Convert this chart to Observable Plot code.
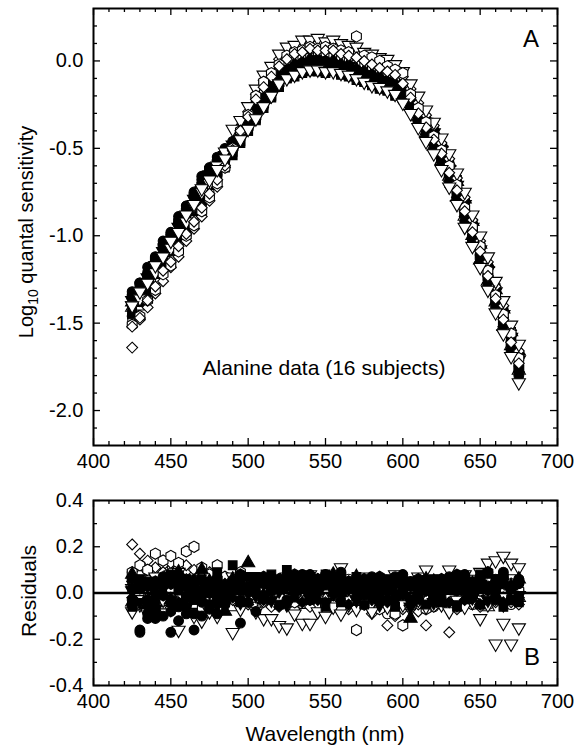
<!DOCTYPE html>
<html><head><meta charset="utf-8">
<script src="https://cdn.jsdelivr.net/npm/d3@7"></script>
<script src="https://cdn.jsdelivr.net/npm/@observablehq/plot@0.6"></script>
<style>
body{margin:0;background:#fff;font-family:"Liberation Sans",Arial,sans-serif;}
#wrap{position:relative;width:585px;height:747px;overflow:hidden;background:#fff;}
#wrap svg{position:absolute;left:0;}
.lab{position:absolute;color:#000;white-space:nowrap;line-height:1;}
.rot{transform:translate(-50%,-50%) rotate(-90deg);}
.ctr{transform:translate(-50%,-50%);}
</style></head><body><div id="wrap"></div>
<script>
// ---- data ----
const wavelengths = [425,430,435,440,445,450,455,460,465,470,475,480,485,490,495,500,505,510,515,520,525,530,535,540,545,550,555,560,565,570,575,580,585,590,595,600,605,610,615,620,625,630,635,640,645,650,655,660,665,670,675];
const xTicks = [400,450,500,550,600,650,700];
const xMinor = [410,420,430,440,460,470,480,490,510,520,530,540,560,570,580,590,610,620,630,640,660,670,680,690];
const yTicksA = [-2.0,-1.5,-1.0,-0.5,0.0];
const yMinorA = [-2.1,-1.9,-1.8,-1.7,-1.6,-1.4,-1.3,-1.2,-1.1,-0.9,-0.8,-0.7,-0.6,-0.4,-0.3,-0.2,-0.1,0.1,0.2];
const yTicksB = [-0.4,-0.2,0.0,0.2,0.4];
const yMinorB = [-0.3,-0.1,0.1,0.3];

// symbol of each of the 16 subjects
const subjectShape = ["circle","circle","triangle","triangle","square","square","diamond2","diamond2","triangle","triangle","hexagon","hexagon","circle","square","diamond2","triangle"];
const subjectFilled = [1,0,1,0,1,0,1,0,1,0,1,0,1,1,0,0];
const subjectPointDown = [0,0,0,0,0,0,0,0,1,1,0,0,0,0,0,1];

// Panel A: log10 quantal sensitivity per subject (425..675 nm, 5 nm steps)
const sens01 = [-1.32,-1.27,-1.18,-1.12,-1.03,-0.98,-0.89,-0.83,-0.75,-0.66,-0.61,-0.55,-0.50,-0.47,-0.40,-0.35,-0.29,-0.23,-0.16,-0.12,-0.07,-0.04,-0.03,-0.03,-0.02,-0.01,-0.03,-0.04,-0.05,-0.06,-0.09,-0.11,-0.12,-0.13,-0.16,-0.20,-0.26,-0.31,-0.38,-0.46,-0.54,-0.63,-0.75,-0.86,-0.97,-1.11,-1.23,-1.35,-1.49,-1.60,-1.74];
const sens02 = [-1.46,-1.38,-1.33,-1.23,-1.18,-1.09,-1.04,-0.95,-0.86,-0.81,-0.72,-0.65,-0.57,-0.48,-0.38,-0.31,-0.21,-0.13,-0.08,-0.03,0.02,0.05,0.06,0.06,0.08,0.07,0.07,0.05,0.05,0.03,0.01,-0.01,-0.02,-0.05,-0.08,-0.12,-0.20,-0.27,-0.37,-0.42,-0.53,-0.61,-0.73,-0.83,-0.97,-1.07,-1.22,-1.33,-1.47,-1.58,-1.70];
const sens03 = [-1.38,-1.30,-1.25,-1.15,-1.10,-1.01,-0.96,-0.86,-0.80,-0.71,-0.66,-0.59,-0.54,-0.47,-0.41,-0.34,-0.28,-0.22,-0.14,-0.09,-0.06,-0.02,-0.01,0.01,0.00,-0.01,0.00,-0.02,-0.02,-0.05,-0.06,-0.08,-0.09,-0.12,-0.13,-0.17,-0.21,-0.27,-0.32,-0.40,-0.47,-0.58,-0.69,-0.79,-0.92,-1.05,-1.16,-1.31,-1.42,-1.55,-1.66];
const sens04 = [-1.41,-1.33,-1.28,-1.18,-1.12,-1.06,-0.97,-0.91,-0.82,-0.74,-0.69,-0.61,-0.53,-0.47,-0.38,-0.32,-0.23,-0.15,-0.11,-0.04,0.01,0.02,0.03,0.05,0.04,0.06,0.04,0.02,0.02,0.01,-0.02,-0.04,-0.05,-0.06,-0.09,-0.15,-0.23,-0.32,-0.41,-0.49,-0.57,-0.66,-0.78,-0.89,-1.00,-1.14,-1.26,-1.38,-1.52,-1.63,-1.77];
const sens05 = [-1.43,-1.35,-1.30,-1.21,-1.15,-1.06,-1.01,-0.92,-0.85,-0.76,-0.70,-0.64,-0.59,-0.52,-0.46,-0.40,-0.33,-0.25,-0.20,-0.14,-0.10,-0.07,-0.06,-0.05,-0.06,-0.05,-0.05,-0.07,-0.08,-0.09,-0.12,-0.13,-0.15,-0.17,-0.18,-0.22,-0.27,-0.33,-0.39,-0.45,-0.55,-0.66,-0.75,-0.87,-0.99,-1.10,-1.24,-1.37,-1.49,-1.61,-1.75];
const sens06 = [-1.48,-1.40,-1.35,-1.25,-1.20,-1.12,-1.04,-0.98,-0.88,-0.83,-0.74,-0.68,-0.59,-0.50,-0.43,-0.33,-0.25,-0.19,-0.11,-0.06,-0.03,0.01,0.02,0.02,0.03,0.04,0.02,0.01,0.01,-0.02,-0.03,-0.05,-0.07,-0.08,-0.11,-0.14,-0.21,-0.27,-0.34,-0.41,-0.49,-0.60,-0.71,-0.81,-0.94,-1.07,-1.19,-1.31,-1.44,-1.57,-1.69];
const sens07 = [-1.39,-1.34,-1.25,-1.19,-1.10,-1.05,-0.97,-0.88,-0.82,-0.74,-0.66,-0.62,-0.55,-0.50,-0.44,-0.37,-0.31,-0.24,-0.17,-0.12,-0.08,-0.05,-0.04,-0.04,-0.03,-0.02,-0.04,-0.05,-0.05,-0.08,-0.10,-0.12,-0.13,-0.14,-0.17,-0.21,-0.28,-0.35,-0.42,-0.48,-0.58,-0.69,-0.78,-0.89,-1.02,-1.15,-1.27,-1.39,-1.52,-1.65,-1.78];
const sens08 = [-1.64,-1.48,-1.41,-1.33,-1.26,-1.18,-1.12,-1.03,-0.96,-0.89,-0.80,-0.72,-0.61,-0.50,-0.40,-0.29,-0.19,-0.11,-0.06,0.01,0.05,0.07,0.09,0.10,0.10,0.09,0.09,0.08,0.06,0.05,0.03,0.01,-0.01,-0.02,-0.05,-0.09,-0.16,-0.24,-0.31,-0.37,-0.47,-0.56,-0.67,-0.78,-0.91,-1.03,-1.15,-1.29,-1.40,-1.54,-1.66];
const sens09 = [-1.37,-1.33,-1.24,-1.18,-1.09,-1.04,-0.95,-0.89,-0.79,-0.74,-0.65,-0.61,-0.54,-0.48,-0.42,-0.35,-0.29,-0.21,-0.16,-0.10,-0.05,-0.04,-0.02,-0.02,0.00,-0.01,-0.02,-0.03,-0.03,-0.06,-0.08,-0.10,-0.11,-0.12,-0.15,-0.18,-0.23,-0.29,-0.35,-0.41,-0.51,-0.62,-0.71,-0.82,-0.95,-1.08,-1.20,-1.32,-1.45,-1.58,-1.71];
const sens10 = [-1.40,-1.36,-1.27,-1.21,-1.12,-1.07,-0.98,-0.92,-0.83,-0.75,-0.70,-0.60,-0.52,-0.39,-0.34,-0.26,-0.16,-0.08,-0.03,0.04,0.08,0.09,0.12,0.12,0.13,0.11,0.12,0.10,0.09,0.08,0.05,0.04,0.02,0.01,-0.02,-0.06,-0.13,-0.20,-0.28,-0.35,-0.44,-0.53,-0.64,-0.75,-0.88,-1.00,-1.12,-1.26,-1.37,-1.51,-1.62];
const sens11 = [-1.35,-1.28,-1.23,-1.14,-1.06,-1.01,-0.92,-0.86,-0.77,-0.71,-0.62,-0.58,-0.53,-0.49,-0.42,-0.38,-0.32,-0.25,-0.18,-0.13,-0.09,-0.06,-0.05,-0.04,-0.05,-0.04,-0.04,-0.06,-0.07,-0.09,-0.10,-0.12,-0.14,-0.15,-0.18,-0.22,-0.27,-0.33,-0.40,-0.47,-0.56,-0.65,-0.76,-0.88,-1.01,-1.12,-1.24,-1.38,-1.51,-1.62,-1.76];
const sens12 = [-1.51,-1.46,-1.37,-1.31,-1.22,-1.17,-1.09,-1.00,-0.94,-0.86,-0.78,-0.70,-0.61,-0.50,-0.40,-0.31,-0.20,-0.12,-0.07,-0.02,0.03,0.05,0.06,0.08,0.07,0.08,0.07,0.06,0.05,0.14,0.03,0.02,0.00,-0.03,-0.05,-0.07,-0.19,-0.27,-0.35,-0.43,-0.51,-0.60,-0.71,-0.84,-0.95,-1.06,-1.20,-1.34,-1.45,-1.56,-1.70];
const sens13 = [-1.35,-1.27,-1.21,-1.14,-1.05,-0.99,-0.93,-0.83,-0.77,-0.68,-0.63,-0.57,-0.51,-0.46,-0.39,-0.35,-0.28,-0.21,-0.15,-0.08,-0.05,-0.03,-0.01,0.00,0.01,0.00,-0.01,-0.03,-0.03,-0.05,-0.07,-0.08,-0.11,-0.12,-0.14,-0.19,-0.27,-0.36,-0.44,-0.51,-0.60,-0.71,-0.80,-0.92,-1.03,-1.16,-1.29,-1.41,-1.54,-1.66,-1.80];
const sens14 = [-1.45,-1.38,-1.32,-1.22,-1.17,-1.09,-1.01,-0.95,-0.86,-0.80,-0.71,-0.66,-0.61,-0.54,-0.47,-0.40,-0.34,-0.27,-0.21,-0.15,-0.10,-0.09,-0.07,-0.06,-0.06,-0.07,-0.06,-0.08,-0.09,-0.11,-0.12,-0.14,-0.16,-0.17,-0.20,-0.21,-0.25,-0.29,-0.33,-0.40,-0.49,-0.59,-0.68,-0.81,-0.93,-1.05,-1.18,-1.30,-1.43,-1.55,-1.68];
const sens15 = [-1.52,-1.47,-1.37,-1.29,-1.20,-1.15,-1.06,-0.99,-0.92,-0.84,-0.76,-0.68,-0.60,-0.51,-0.40,-0.32,-0.22,-0.15,-0.09,-0.03,0.01,0.04,0.05,0.07,0.06,0.06,0.06,0.04,0.03,0.02,0.00,-0.02,-0.04,-0.06,-0.08,-0.13,-0.21,-0.30,-0.38,-0.45,-0.53,-0.64,-0.74,-0.86,-0.98,-1.09,-1.23,-1.36,-1.48,-1.61,-1.73];
const sens16 = [-1.40,-1.32,-1.27,-1.17,-1.12,-1.03,-0.98,-0.88,-0.82,-0.73,-0.68,-0.62,-0.56,-0.51,-0.45,-0.39,-0.33,-0.26,-0.20,-0.13,-0.10,-0.08,-0.06,-0.05,-0.05,-0.06,-0.06,-0.07,-0.08,-0.10,-0.12,-0.14,-0.15,-0.17,-0.19,-0.24,-0.30,-0.38,-0.46,-0.53,-0.62,-0.72,-0.82,-0.95,-1.06,-1.18,-1.31,-1.44,-1.56,-1.69,-1.84];

// Panel B: residuals per subject
const res01 = [-0.05,-0.17,-0.11,-0.08,0.07,-0.17,-0.06,-0.09,-0.16,-0.10,-0.05,-0.09,-0.03,0.02,-0.13,-0.04,-0.08,-0.02,0.07,0.03,-0.03,0.05,0.02,0.08,0.06,0.08,0.04,0.09,0.02,0.06,-0.01,0.05,-0.02,0.03,0.07,-0.01,0.04,0.02,0.06,-0.02,0.03,0.07,0.01,0.08,-0.02,0.05,0.09,0.01,0.06,-0.03,0.04];
const res02 = [0.09,0.04,-0.02,0.06,0.10,0.03,-0.04,0.05,0.01,0.08,-0.03,0.06,0.02,-0.05,0.04,0.00,-0.06,0.03,-0.02,0.05,0.01,-0.04,0.03,-0.01,0.04,-0.05,0.02,-0.03,0.06,-0.02,0.01,-0.06,0.04,-0.09,0.02,-0.04,0.05,-0.01,0.03,-0.06,0.04,-0.02,0.07,0.00,-0.05,0.03,-0.04,0.06,0.02,-0.05,0.01];
const res03 = [0.08,0.03,-0.05,0.01,0.06,-0.03,0.09,0.04,-0.02,0.10,0.05,0.02,-0.08,0.06,0.01,0.13,0.04,-0.03,0.05,0.02,0.07,0.01,0.06,-0.02,0.05,0.03,0.08,0.00,0.04,0.07,-0.01,0.05,0.02,-0.03,0.04,0.01,-0.11,0.03,0.06,-0.02,0.05,0.01,0.07,-0.03,0.04,0.02,0.08,-0.01,0.05,0.03,0.06];
const res04 = [-0.04,0.05,0.02,-0.07,0.03,0.06,-0.02,0.04,-0.05,0.01,0.07,-0.03,0.03,-0.06,0.02,-0.01,0.05,-0.04,0.02,0.04,-0.02,0.03,-0.05,0.05,0.01,-0.03,0.04,-0.02,0.02,-0.04,0.03,0.01,-0.05,0.02,0.06,-0.03,0.01,0.04,-0.02,0.05,-0.04,0.03,0.00,0.05,-0.03,0.02,-0.06,0.03,0.01,0.04,-0.02];
const res05 = [0.02,0.06,0.03,-0.05,0.04,0.08,0.01,0.05,-0.03,0.06,0.04,0.09,0.02,0.12,0.05,0.07,0.03,0.06,0.08,0.04,0.10,0.06,0.03,0.07,0.05,0.08,0.02,0.06,0.04,0.07,0.03,0.05,0.01,0.06,0.04,0.02,-0.03,0.05,0.03,0.06,-0.02,0.04,0.07,0.03,0.05,0.08,0.02,0.06,0.04,-0.03,0.05];
const res06 = [0.04,-0.03,0.07,0.02,-0.05,0.01,0.06,-0.02,0.04,-0.06,0.02,0.05,-0.01,0.03,-0.04,0.06,0.00,-0.03,0.04,-0.01,0.03,-0.05,0.01,0.04,-0.02,0.02,-0.04,0.05,0.00,0.03,-0.03,0.02,0.05,-0.02,0.01,0.04,-0.03,0.02,-0.05,0.03,0.00,0.05,-0.02,0.04,0.01,-0.03,0.05,-0.01,0.03,0.06,-0.02];
const res07 = [-0.02,0.04,-0.06,0.03,-0.01,0.05,-0.04,0.02,0.06,-0.03,0.01,-0.05,0.04,-0.02,0.03,0.00,0.05,-0.03,0.02,-0.06,0.03,0.00,-0.04,0.02,-0.03,0.04,-0.01,0.03,-0.05,0.01,0.04,-0.02,0.03,-0.04,0.00,0.05,-0.03,0.02,0.04,-0.01,0.03,-0.04,0.02,-0.03,0.04,-0.05,0.01,0.03,-0.04,0.02,-0.02];
const res08 = [0.21,0.17,0.14,0.10,0.12,0.09,0.11,0.06,0.08,0.03,0.05,0.02,0.04,-0.03,0.02,-0.05,0.01,-0.04,-0.06,0.02,-0.04,-0.07,-0.03,-0.06,-0.02,-0.08,-0.05,-0.03,-0.07,-0.06,-0.04,-0.09,-0.06,-0.14,-0.10,-0.07,-0.05,-0.08,-0.14,-0.06,-0.04,-0.17,-0.07,-0.05,-0.03,-0.06,-0.02,-0.04,0.01,-0.03,-0.05];
const res09 = [0.01,-0.04,0.03,-0.07,0.02,-0.03,0.05,-0.06,0.00,-0.02,0.04,-0.05,0.01,0.03,-0.04,0.02,-0.01,0.04,-0.03,0.01,-0.05,0.02,0.04,-0.02,0.00,-0.04,0.03,-0.01,0.02,-0.03,0.05,-0.02,-0.05,0.01,-0.03,0.03,-0.06,0.00,0.02,-0.04,0.01,0.03,-0.05,0.02,-0.02,0.04,-0.03,0.01,-0.05,0.02,-0.01];
const res10 = [-0.08,-0.05,-0.09,-0.06,-0.03,-0.07,-0.16,-0.04,-0.10,-0.12,-0.08,-0.10,-0.05,-0.17,-0.07,-0.03,-0.08,-0.11,-0.11,-0.14,-0.15,-0.09,-0.13,-0.13,-0.08,-0.10,-0.06,-0.09,-0.05,-0.07,-0.04,-0.08,-0.03,-0.06,-0.02,-0.05,-0.07,-0.03,-0.06,-0.02,-0.05,-0.08,-0.03,-0.06,-0.04,-0.11,-0.05,-0.22,-0.13,-0.22,-0.15];
const res11 = [0.06,0.02,-0.03,0.05,-0.01,0.04,0.07,-0.02,0.03,0.05,0.00,0.06,-0.03,0.04,0.08,0.02,0.05,0.07,0.01,0.06,0.03,0.08,0.05,0.02,0.06,0.04,0.07,0.01,0.05,0.03,0.06,0.02,0.07,0.04,-0.02,0.05,0.03,0.06,0.01,0.04,0.06,0.02,0.05,0.07,0.03,0.06,0.09,0.04,0.07,0.02,0.05];
const res12 = [0.09,0.12,0.10,0.17,0.14,0.16,0.13,0.18,0.20,0.11,0.08,0.12,0.07,0.05,0.09,0.03,0.06,0.01,0.04,-0.02,0.03,-0.04,0.01,-0.03,0.02,-0.05,-0.01,-0.06,-0.03,-0.16,-0.05,-0.02,-0.07,-0.04,-0.09,-0.14,-0.06,-0.03,-0.07,-0.02,-0.05,-0.01,-0.04,0.02,-0.03,0.01,-0.05,0.03,-0.02,0.04,0.01];
const res13 = [-0.03,-0.16,-0.09,-0.11,-0.10,-0.08,-0.12,-0.06,-0.09,-0.04,-0.07,-0.02,-0.05,0.01,-0.03,0.03,0.06,-0.01,0.04,0.02,0.07,0.03,0.08,0.05,0.02,0.07,0.04,0.08,0.03,0.06,0.02,0.07,0.05,0.01,0.04,0.08,0.03,-0.02,0.05,0.02,0.06,0.03,0.08,0.04,0.01,0.07,0.03,0.05,0.09,0.02,0.06];
const res14 = [-0.06,0.03,0.05,-0.02,0.04,-0.04,0.02,0.06,-0.03,0.01,-0.05,0.03,-0.02,0.05,-0.04,0.02,0.07,-0.01,0.03,-0.05,0.04,-0.02,0.06,-0.03,0.02,-0.06,0.03,-0.04,0.05,-0.01,-0.05,0.03,-0.02,0.04,-0.06,0.01,0.05,-0.03,-0.05,0.02,-0.04,0.04,-0.06,0.01,0.03,-0.05,0.02,-0.03,-0.06,0.03,-0.04];
const res15 = [0.05,0.08,0.06,0.11,0.09,0.13,0.08,0.12,0.10,0.07,0.09,0.05,0.07,0.02,0.06,0.03,0.05,0.01,0.04,-0.02,0.02,0.04,-0.03,0.03,0.01,-0.04,0.02,-0.02,0.03,-0.05,0.01,-0.03,0.02,-0.06,0.00,-0.04,0.01,-0.05,0.03,-0.03,0.02,-0.04,0.04,-0.02,0.03,-0.05,0.02,-0.03,0.04,-0.04,0.00];
const res16 = [0.02,0.06,0.01,0.07,0.04,0.08,0.09,0.03,0.06,0.02,0.05,0.01,0.04,0.07,0.02,0.05,0.03,0.06,0.01,0.04,0.07,0.03,0.05,0.08,0.02,0.06,0.04,0.11,0.05,0.03,0.07,0.04,0.06,0.02,0.08,0.03,0.05,0.07,0.10,0.04,0.06,0.10,0.05,0.08,0.06,0.09,0.13,0.14,0.16,0.13,0.11];

const sensitivity = [sens01,sens02,sens03,sens04,sens05,sens06,sens07,sens08,sens09,sens10,sens11,sens12,sens13,sens14,sens15,sens16];
const residuals = [res01,res02,res03,res04,res05,res06,res07,res08,res09,res10,res11,res12,res13,res14,res15,res16];

// ---- build tables (drawing order of the subjects differs per panel) ----
const drawOrderA = [1,3,5,0,2,4,6,8,10,12,13,7,9,11,14,15];
const drawOrderB = [1,3,5,7,14,11,9,15,0,2,4,6,8,10,12,13];
function table(series, order) {
  const out = [];
  for (const s of order) {
    series[s].forEach((v, i) => out.push({
      wl: wavelengths[i], v,
      shape: subjectShape[s],
      fill: subjectFilled[s] ? "black" : "white",
      rot: subjectPointDown[s] ? 180 : 0
    }));
  }
  return out;
}
const dataA = table(sensitivity, drawOrderA);
const dataB = table(residuals, drawOrderB);

const W = 585, ML = 93, MR = 28;
const FONT = "'Liberation Sans', Arial, sans-serif";
const tickFont = 20;

function frameTicks(innerW, innerH, yMajor, yMinor) {
  const maj = 7, mn = 4, sw = 1.3;
  return [
    Plot.tickX(xTicks, {x: d => d, insetTop: innerH - maj, strokeWidth: sw}),
    Plot.tickX(xTicks, {x: d => d, insetBottom: innerH - maj, strokeWidth: sw}),
    Plot.tickX(xMinor, {x: d => d, insetTop: innerH - mn, strokeWidth: sw}),
    Plot.tickX(xMinor, {x: d => d, insetBottom: innerH - mn, strokeWidth: sw}),
    Plot.tickY(yMajor, {y: d => d, insetRight: innerW - maj, strokeWidth: sw}),
    Plot.tickY(yMajor, {y: d => d, insetLeft: innerW - maj, strokeWidth: sw}),
    Plot.tickY(yMinor, {y: d => d, insetRight: innerW - mn, strokeWidth: sw}),
    Plot.tickY(yMinor, {y: d => d, insetLeft: innerW - mn, strokeWidth: sw}),
    Plot.frame({strokeWidth: 2})
  ];
}
const dotOpts = {x: "wl", y: "v", symbol: "shape", fill: "fill", stroke: "black", strokeWidth: 1.1, r: 4.9, rotate: "rot"};

// Panel A
const hA = 480, mtA = 8, mbA = 35;
const plotA = Plot.plot({
  width: W, height: hA,
  marginLeft: ML, marginRight: MR, marginTop: mtA, marginBottom: mbA,
  style: {fontFamily: FONT, fontSize: tickFont + "px", background: "white", overflow: "visible"},
  x: {domain: [400, 700]},
  y: {domain: [-2.2, 0.3]},
  symbol: {type: "identity"},
  color: {type: "identity"},
  marks: [
    Plot.dot(dataA, dotOpts),
    ...frameTicks(W - ML - MR, hA - mtA - mbA, yTicksA, yMinorA),
    Plot.axisX(xTicks, {tickSize: 0, tickPadding: 8, fontSize: tickFont, label: null, tickFormat: d => String(d)}),
    Plot.axisY(yTicksA, {tickSize: 0, tickPadding: 10, fontSize: tickFont, label: null, tickFormat: d => d.toFixed(1)})
  ]
});

// Panel B
const hB = 267, mtB = 20, mbB = 62;
const plotB = Plot.plot({
  width: W, height: hB,
  marginLeft: ML, marginRight: MR, marginTop: mtB, marginBottom: mbB,
  style: {fontFamily: FONT, fontSize: tickFont + "px", background: "white", overflow: "visible"},
  x: {domain: [400, 700]},
  y: {domain: [-0.4, 0.4]},
  symbol: {type: "identity"},
  color: {type: "identity"},
  marks: [
    Plot.dot(dataB, dotOpts),
    Plot.ruleY([0], {strokeWidth: 2.5}),
    ...frameTicks(W - ML - MR, hB - mtB - mbB, yTicksB, yMinorB),
    Plot.axisX(xTicks, {tickSize: 0, tickPadding: 8, fontSize: tickFont, label: null, tickFormat: d => String(d)}),
    Plot.axisY(yTicksB, {tickSize: 0, tickPadding: 10, fontSize: tickFont, label: null, tickFormat: d => d.toFixed(1)})
  ]
});

const wrap = document.getElementById("wrap");
plotA.style.top = "0px";
plotB.style.top = hA + "px";
wrap.appendChild(plotA);
wrap.appendChild(plotB);

function label(html, x, y, size, cls) {
  const d = document.createElement("div");
  d.className = "lab " + cls;
  d.style.left = x + "px"; d.style.top = y + "px"; d.style.fontSize = size + "px";
  d.innerHTML = html;
  wrap.appendChild(d);
}
label("Log<sub style='font-size:0.7em'>10</sub> quantal sensitivity", 28, 232, 20, "rot");
label("Residuals", 28, 591, 21, "rot");
label("Wavelength (nm)", 325, 733, 21, "ctr");
label("Alanine data (16 subjects)", 324, 367, 21, "ctr");
label("A", 531, 39, 24, "ctr");
label("B", 532, 657, 24, "ctr");
</script></body></html>
